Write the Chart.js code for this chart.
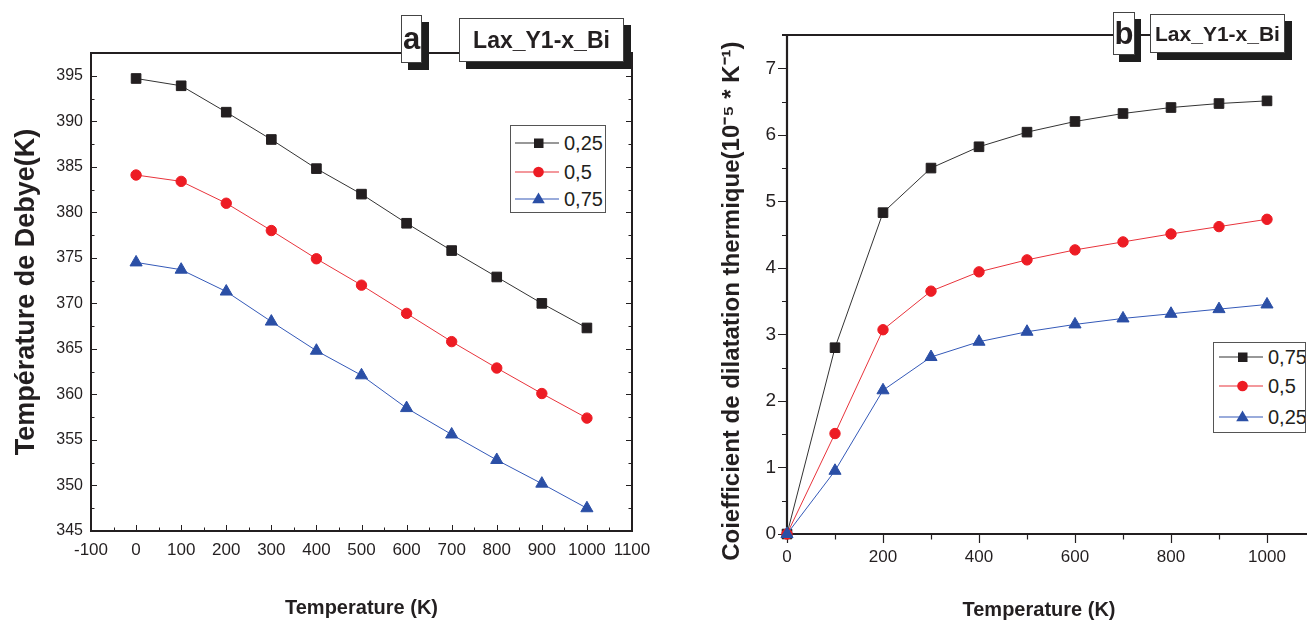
<!DOCTYPE html>
<html><head><meta charset="utf-8">
<script src="https://cdn.jsdelivr.net/npm/chart.js@4.4.0/dist/chart.umd.min.js"></script>
<style>
html,body{margin:0;padding:0;background:#fff;width:1307px;height:623px;overflow:hidden;position:relative;font-family:"Liberation Sans",Arial,sans-serif;color:#231f20;}
.cw{position:absolute;top:0;height:623px;}
.tag{position:absolute;background:#fff;border:1px solid #444;box-shadow:7px 7px 0 #1e1e1e;font-weight:bold;color:#231f20;display:flex;align-items:center;justify-content:center;box-sizing:border-box;white-space:nowrap;}
.legend{position:absolute;background:#fff;border:1px solid #555;box-sizing:border-box;overflow:hidden;}
.lrow{position:absolute;left:0;display:flex;align-items:center;font-size:20px;line-height:1;}
.lrow svg{display:block;}
</style></head>
<body>
<div class="cw" style="left:0;width:650px;"><canvas id="ca"></canvas></div>
<div class="cw" style="left:650px;width:657px;"><canvas id="cb"></canvas></div>

<div class="tag" style="left:401px;top:15px;width:21px;height:48px;font-size:31px;">a</div>
<div class="tag" style="left:459px;top:18px;width:165px;height:44px;font-size:23px;">Lax_Y1-x_Bi</div>
<div class="tag" style="left:1113px;top:12px;width:22px;height:43px;font-size:31px;box-shadow:6px 7px 0 #1e1e1e;">b</div>
<div class="tag" style="left:1150px;top:14px;width:135px;height:39px;font-size:21px;">Lax_Y1-x_Bi</div>

<div class="legend" id="legA" style="left:510px;top:125px;width:96px;height:88px;"></div>
<div class="legend" id="legB" style="left:1213px;top:342px;width:93px;height:91px;"></div>

<script>
// ---------- data ----------
const temps = [0,100,200,300,400,500,600,700,800,900,1000];
const debye025 = [394.7,393.9,391.0,388.0,384.8,382.0,378.8,375.8,372.9,370.0,367.3];
const debye05  = [384.1,383.4,381.0,378.0,374.9,372.0,368.9,365.8,362.9,360.1,357.4];
const debye075 = [374.5,373.7,371.3,368.0,364.8,362.1,358.5,355.6,352.8,350.2,347.5];
const dil075 = [0,2.80,4.83,5.50,5.82,6.04,6.20,6.32,6.41,6.47,6.51];
const dil05  = [0,1.51,3.07,3.65,3.94,4.12,4.27,4.39,4.51,4.62,4.73];
const dil025 = [0,0.95,2.16,2.66,2.89,3.04,3.15,3.24,3.31,3.38,3.45];
const xTicksA = [-100,0,100,200,300,400,500,600,700,800,900,1000,1100];
const yTicksA = [345,350,355,360,365,370,375,380,385,390,395];
const xTicksB = [0,200,400,600,800,1000];
const yTicksB = [0,1,2,3,4,5,6,7];
const seriesA = ['0,25','0,5','0,75'];
const seriesB = ['0,75','0,5','0,25'];

const BLACK='#231f20', RED='#ed1c24', BLUE='#2b4fa6';
const REG='"Liberation Sans",Arial,sans-serif';
const styles = {
  sq:{pointStyle:'rect',pointRadius:6.8,color:BLACK,line:'#333'},
  ci:{pointStyle:'circle',pointRadius:5.2,color:RED,line:'#e8333b'},
  tr:{pointStyle:'triangle',pointRadius:7,color:BLUE,line:'#3459b8'}
};
function ds(label,data,st,order){
  return {label,data:temps.map((t,i)=>({x:t,y:data[i]})),borderColor:st.line,borderWidth:1,
    backgroundColor:st.color,pointBackgroundColor:st.color,pointBorderColor:st.color,pointBorderWidth:1,
    pointStyle:st.pointStyle,pointRadius:st.pointRadius,pointHoverRadius:st.pointRadius,
    tension:0,clip:false,order};
}
function setTicks(arr){return s=>{s.ticks=arr.map(v=>({value:v}));};}
function mids(arr){const r=[];for(let i=0;i<arr.length-1;i++)r.push((arr[i]+arr[i+1])/2);return r;}
const plain = v => String(v);

// frame + ticks for chart a (boxed, inward ticks)
const decoA = {id:'decoA',beforeDatasetsDraw(chart){
  const {ctx,chartArea:a,scales:{x,y}}=chart;
  ctx.save();ctx.strokeStyle=BLACK;ctx.lineWidth=1;ctx.beginPath();
  const L=(x1,y1,x2,y2)=>{ctx.moveTo(x1,y1);ctx.lineTo(x2,y2);};
  xTicksA.forEach(v=>{const p=Math.round(x.getPixelForValue(v))+0.5;L(p,a.bottom,p,a.bottom-6);});
  mids(xTicksA).forEach(v=>{const p=Math.round(x.getPixelForValue(v))+0.5;L(p,a.bottom,p,a.bottom-3.5);});
  yTicksA.forEach(v=>{const p=Math.round(y.getPixelForValue(v))+0.5;L(a.left,p,a.left+6,p);L(a.right,p,a.right-6,p);});
  mids(yTicksA).concat([395]).forEach(v=>{const p=Math.round(y.getPixelForValue(v))+0.5;L(a.left,p,a.left+3.5,p);L(a.right,p,a.right-3.5,p);});
  ctx.stroke();
  ctx.lineWidth=2;ctx.strokeRect(a.left,a.top,a.right-a.left,a.bottom-a.top);
  ctx.restore();
}};
// axes + outward ticks for chart b
const decoB = {id:'decoB',beforeDatasetsDraw(chart){
  const {ctx,chartArea:a,scales:{x,y}}=chart;
  ctx.save();ctx.strokeStyle=BLACK;ctx.lineWidth=1.2;ctx.beginPath();
  const L=(x1,y1,x2,y2)=>{ctx.moveTo(x1,y1);ctx.lineTo(x2,y2);};
  xTicksB.forEach(v=>{const p=Math.round(x.getPixelForValue(v))+0.5;L(p,a.bottom,p,a.bottom+9);});
  mids(xTicksB).forEach(v=>{const p=Math.round(x.getPixelForValue(v))+0.5;L(p,a.bottom,p,a.bottom+5.5);});
  yTicksB.forEach(v=>{const p=Math.round(y.getPixelForValue(v))+0.5;L(a.left,p,a.left-9,p);});
  mids(yTicksB).forEach(v=>{const p=Math.round(y.getPixelForValue(v))+0.5;L(a.left,p,a.left-5,p);});
  ctx.stroke();
  ctx.lineWidth=2.2;ctx.beginPath();
  L(a.left-5,a.top,a.right,a.top);
  L(a.left,a.top,a.left,a.bottom+1);
  L(a.left-1,a.bottom,chart.width,a.bottom);
  ctx.stroke();
  ctx.restore();
}};

Chart.defaults.animation=false;
Chart.defaults.color=BLACK;

new Chart(document.getElementById('ca'),{
  type:'line',
  data:{datasets:[ds(seriesA[0],debye025,styles.sq,0),ds(seriesA[1],debye05,styles.ci,1),ds(seriesA[2],debye075,styles.tr,2)]},
  options:{responsive:true,maintainAspectRatio:false,animation:false,
    layout:{padding:{left:0,right:18,top:53,bottom:0}},
    plugins:{legend:{display:false},tooltip:{enabled:false}},
    scales:{
      x:{type:'linear',min:-100,max:1100,afterBuildTicks:setTicks(xTicksA),
        afterFit:s=>{s.height=92;s.paddingLeft=0;s.paddingRight=0;},
        grid:{display:false,drawTicks:false},border:{display:false},
        ticks:{padding:9,font:{family:REG,size:17},color:BLACK,maxRotation:0,autoSkip:false,callback:plain},
        title:{display:true,text:'Temperature (K)',font:{family:REG,size:20,weight:'bold'},color:BLACK,padding:{top:0,bottom:3}}},
      y:{type:'linear',min:345,max:397.5,afterBuildTicks:setTicks(yTicksA),
        afterFit:s=>{s.width=91;s.paddingTop=0;s.paddingBottom=0;},
        grid:{display:false,drawTicks:false},border:{display:false},
        ticks:{padding:8,font:{family:REG,size:16},color:BLACK,autoSkip:false,callback:plain},
        title:{display:true,text:'Température de Debye(K)',font:{family:REG,size:27,weight:'bold'},color:BLACK,padding:{top:10,bottom:0}}}
    }},
  plugins:[decoA]
});

new Chart(document.getElementById('cb'),{
  type:'line',
  data:{datasets:[ds(seriesB[0],dil075,styles.sq,2),ds(seriesB[1],dil05,styles.ci,1),ds(seriesB[2],dil025,styles.tr,0)]},
  options:{responsive:true,maintainAspectRatio:false,animation:false,
    layout:{padding:{left:0,right:16,top:35,bottom:0}},
    plugins:{legend:{display:false},tooltip:{enabled:false}},
    scales:{
      x:{type:'linear',min:0,max:1050,afterBuildTicks:setTicks(xTicksB),
        afterFit:s=>{s.height=89;s.paddingLeft=0;s.paddingRight=0;},
        grid:{display:false,drawTicks:false},border:{display:false},
        ticks:{padding:13,font:{family:REG,size:17},color:BLACK,maxRotation:0,autoSkip:false,callback:plain},
        title:{display:true,text:'Temperature (K)',font:{family:REG,size:20,weight:'bold'},color:BLACK,padding:{top:0,bottom:1}}},
      y:{type:'linear',min:0,max:7.5,afterBuildTicks:setTicks(yTicksB),
        afterFit:s=>{s.width=137;s.paddingTop=0;s.paddingBottom=0;},
        grid:{display:false,drawTicks:false},border:{display:false},
        ticks:{padding:11,font:{family:REG,size:19},color:BLACK,autoSkip:false,callback:plain},
        title:{display:true,text:'Coiefficient de dilatation thermique(10\u207B\u2075 * K\u207B\u00B9)\u00A0\u00A0\u00A0\u00A0\u00A0',font:{family:REG,size:24,weight:'bold'},color:BLACK,padding:{top:68,bottom:0}}}
    }},
  plugins:[decoB]
});

// ---------- HTML legends ----------
function symbol(st){
  let m='';
  if(st.pointStyle==='rect') m=`<rect x="19" y="5.5" width="9.5" height="9.5" fill="${st.color}"/>`;
  else if(st.pointStyle==='circle') m=`<circle cx="23.5" cy="10" r="5.3" fill="${st.color}"/>`;
  else m=`<polygon points="23.5,3.5 29.8,14.2 17.2,14.2" fill="${st.color}"/>`;
  return `<svg width="46" height="20" viewBox="0 0 46 20"><line x1="0" y1="10" x2="44" y2="10" stroke="${st.line}" stroke-width="1.2"/>${m}</svg>`;
}
function buildLegend(id,names,sts,tops,lineLeft){
  const el=document.getElementById(id);
  names.forEach((n,i)=>{
    const r=document.createElement('div');r.className='lrow';
    r.style.top=tops[i]+'px';r.style.left=lineLeft+'px';
    r.innerHTML=symbol(sts[i])+`<span style="margin-left:3px">${n}</span>`;
    el.appendChild(r);
  });
}
buildLegend('legA',seriesA,[styles.sq,styles.ci,styles.tr],[7,36,63],4);
buildLegend('legB',seriesB,[styles.sq,styles.ci,styles.tr],[4,33,64],5);
</script>
</body></html>
